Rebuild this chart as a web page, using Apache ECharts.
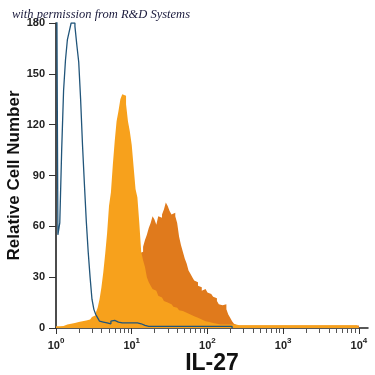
<!DOCTYPE html>
<html>
<head>
<meta charset="utf-8">
<script src="https://cdn.jsdelivr.net/npm/echarts@6/dist/echarts.min.js"></script>
<style>html,body{margin:0;padding:0;background:#fff}#c{width:375px;height:375px}</style>
</head>
<body>
<div id="c"></div>
<script>
// Histogram bins: log10 fluorescence, starting at 10^0, 0.025 decades wide
const binStartLog = 0;
const binWidthLog = 0.025;
const xTickBase = '10';
const xTickExponents = ['0', '1', '2', '3', '4'];
const xTickDecades = [0, 1, 2, 3, 4];
const yTicks = [0, 30, 60, 90, 120, 150, 180];

// Isotype control (blue outline)
const isotypeCounts = [
  300, 55, 62, 105, 140, 158, 170, 175, 180, 180,
  178, 167, 157, 135, 108, 85, 63, 45, 30, 17,
  11, 8, 6, 4, 3.5, 3.5, 3, 2.5, 2.5, 4,
  4.5, 4.5, 3.5, 3, 3, 3, 3, 3, 3, 3,
  3, 3, 3, 3, 2.5, 2, 1.5, 1, 1, 1,
  1, 1, 1, 1, 1, 1, 1, 1, 1, 1,
  1, 1, 1, 1, 1, 1, 1, 1, 1, 1,
  1, 1, 1, 1, 1, 1, 1, 1, 1, 1,
  1, 1, 1, 1, 1, 1, 1, 1, 1, 1,
  1, 1, 1, 0
];

// IL-27 stained, light orange (front)
const lightCounts = [
  1, 1, 1, 1.2, 1.5, 2, 2.4, 2.5, 3, 3,
  3, 3.5, 3.5, 4, 4, 4.5, 5, 5, 5.5, 6.5,
  7.5, 9, 12, 17, 24, 33, 44, 56, 72, 80,
  96, 110, 122, 128, 135, 138, 137, 132, 122, 116,
  108, 95, 82, 77, 62, 45, 40, 36, 30, 27,
  25, 23, 22, 21, 19, 18, 17, 16, 15, 14.5,
  14, 13, 12.5, 12, 11, 10.5, 10, 9.5, 9, 8.5,
  8, 7.5, 7, 6.5, 6, 5.5, 5, 4.5, 4, 3.5,
  3.5, 3, 3, 2.5, 2.5, 2, 2, 2, 2, 2,
  2, 2, 2, 2, 2, 2, 1.6, 1.6, 1.6, 1.6,
  1.6, 1.6, 1.6, 1.6, 1.6, 1.6, 1.6, 1.6, 1.6, 1.6,
  1.6, 1.6, 1.6, 1.6, 1.6, 1.6, 1.6, 1.6, 1.6, 1.6,
  1.6, 1.6, 1.6, 1.6, 1.6, 1.6, 1.6, 1.6, 1.6, 1.6,
  1.6, 1.6, 1.6, 1.6, 1.6, 1.6, 1.6, 1.6, 1.6, 1.6,
  1.6, 1.6, 1.6, 1.6, 1.6, 1.6, 1.6, 1.6, 1.6, 1.6,
  1.6, 1.6, 1.6, 1.6, 1.6, 1.6, 1.6, 1.6, 1.6, 1.6
];

// IL-27 stained, dark orange (back)
const darkCounts = [
  0.5, 0.5, 0.5, 0.5, 0.5, 0.5, 0.5, 0.5, 0.5, 0.5,
  0.5, 0.5, 0.5, 0.5, 0.5, 0.5, 0.5, 0.5, 0.8, 1,
  1.5, 2, 3, 4, 5, 6, 8, 10, 12, 14,
  16, 18, 20, 22, 24, 26, 28, 30, 32, 34,
  36, 38, 40, 42, 44, 45, 48, 52, 55, 59,
  62, 66, 64, 61, 66, 65, 67, 70, 74, 72,
  69, 67, 68, 66, 62, 54, 49, 45, 41, 38,
  34, 32, 30, 28, 27, 25, 24, 22, 23, 24,
  21, 20, 19, 18.5, 17.5, 16, 14, 13.5, 13, 14,
  11, 8, 6, 4, 2.5, 1.5, 1.5, 1.5, 1.5, 1.5,
  1.5, 1.5, 1.5, 1.5, 1.5, 1.5, 1.5, 1.5, 1.5, 1.5,
  1.5, 1.5, 1.5, 1.5, 1.5, 1.5, 1.5, 1.5, 1.5, 1.5,
  1.5, 1.5, 1.5, 1.5, 1.5, 1.5, 1.5, 1.5, 1.5, 1.5,
  1.5, 1.5, 1.5, 1.5, 1.5, 1.5, 1.5, 1.5, 1.5, 1.5,
  1.5, 1.5, 1.5, 1.5, 1.5, 1.5, 1.5, 1.5, 1.5, 1.5,
  1.5, 1.5, 1.5, 1.5, 1.5, 1.5, 1.5, 1.5, 1.5, 1.5
];

function toSteps(counts, closeEnd) {
  const pts = counts.map((v, i) => [binStartLog + i * binWidthLog, v]);
  if (closeEnd) pts.push([binStartLog + counts.length * binWidthLog, counts[counts.length - 1]]);
  return pts;
}

const minorTicks = [];
for (let d = 0; d < 4; d++) {
  for (let k = 2; k <= 9; k++) minorTicks.push(d + Math.log10(k));
}

const chart = echarts.init(document.getElementById('c'), null, {renderer: 'canvas'});
const font = 'Liberation Sans, Arial, Helvetica, sans-serif';
chart.setOption({
  animation: false,
  backgroundColor: '#ffffff',
  grid: {left: 56, right: 7, top: 23, bottom: 47, containLabel: false, outerBoundsMode: 'none'},
  xAxis: [{
    type: 'value', min: 0, max: 4.12,
    name: 'IL-27', nameLocation: 'middle', nameGap: 24, nameMoveOverlap: false,
    nameTextStyle: {fontFamily: font, fontWeight: 'bold', fontSize: 23, color: '#111'},
    axisLine: {show: true, lineStyle: {color: '#222', width: 1.5}},
    axisTick: {show: true, length: 6, customValues: xTickDecades, lineStyle: {color: '#333', width: 1}},
    axisLabel: {
      show: true, margin: 9, customValues: xTickDecades,
      formatter: v => '{b|' + xTickBase + '}{s|' + xTickExponents[Math.round(v)] + '}',
      rich: {
        b: {fontFamily: font, fontWeight: 'bold', fontSize: 11, color: '#222', lineHeight: 14, verticalAlign: 'bottom'},
        s: {fontFamily: font, fontWeight: 'bold', fontSize: 8, color: '#222', lineHeight: 14, verticalAlign: 'top', padding: [0, 0, 4, 0]}
      }
    },
    splitLine: {show: false}
  }, {
    type: 'value', min: 0, max: 4.12, position: 'bottom', gridIndex: 0,
    axisLine: {show: false},
    axisTick: {show: true, length: 5, customValues: minorTicks, lineStyle: {color: '#555', width: 1}},
    axisLabel: {show: false},
    splitLine: {show: false}
  }],
  yAxis: {
    type: 'value', min: 0, max: 180, interval: 30,
    name: 'Relative Cell Number', nameLocation: 'middle', nameGap: 33, nameMoveOverlap: false,
    nameTextStyle: {fontFamily: font, fontWeight: 'bold', fontSize: 17, color: '#111'},
    axisLine: {show: true, lineStyle: {color: '#111', width: 1.5}},
    axisTick: {show: true, length: 7, lineStyle: {color: '#333', width: 1}},
    axisLabel: {margin: 11, fontFamily: font, fontWeight: 'bold', fontSize: 11, color: '#222',
      customValues: yTicks},
    splitLine: {show: false}
  },
  series: [{
    type: 'line', step: 'end', data: toSteps(darkCounts, true),
    showSymbol: false, symbol: 'none',
    lineStyle: {width: 0, color: '#E07A1C'},
    areaStyle: {color: '#E07A1C', opacity: 1},
    z: 2
  }, {
    type: 'line', step: 'end', data: toSteps(lightCounts, true),
    showSymbol: false, symbol: 'none',
    lineStyle: {width: 0, color: '#F7A11C'},
    areaStyle: {color: '#F7A11C', opacity: 1},
    z: 3
  }, {
    type: 'line', step: 'end', data: toSteps(isotypeCounts, false),
    showSymbol: false, symbol: 'none',
    lineStyle: {width: 1.3, color: '#21557a'},
    z: 4
  }],
  graphic: [{
    type: 'text', left: 12, top: 8, z: 10,
    style: {
      text: 'with permission from R&D Systems',
      font: 'italic 12.5px "Liberation Serif", "DejaVu Serif", serif',
      fill: '#1a1a3c'
    }
  }]
});
</script>
</body>
</html>
